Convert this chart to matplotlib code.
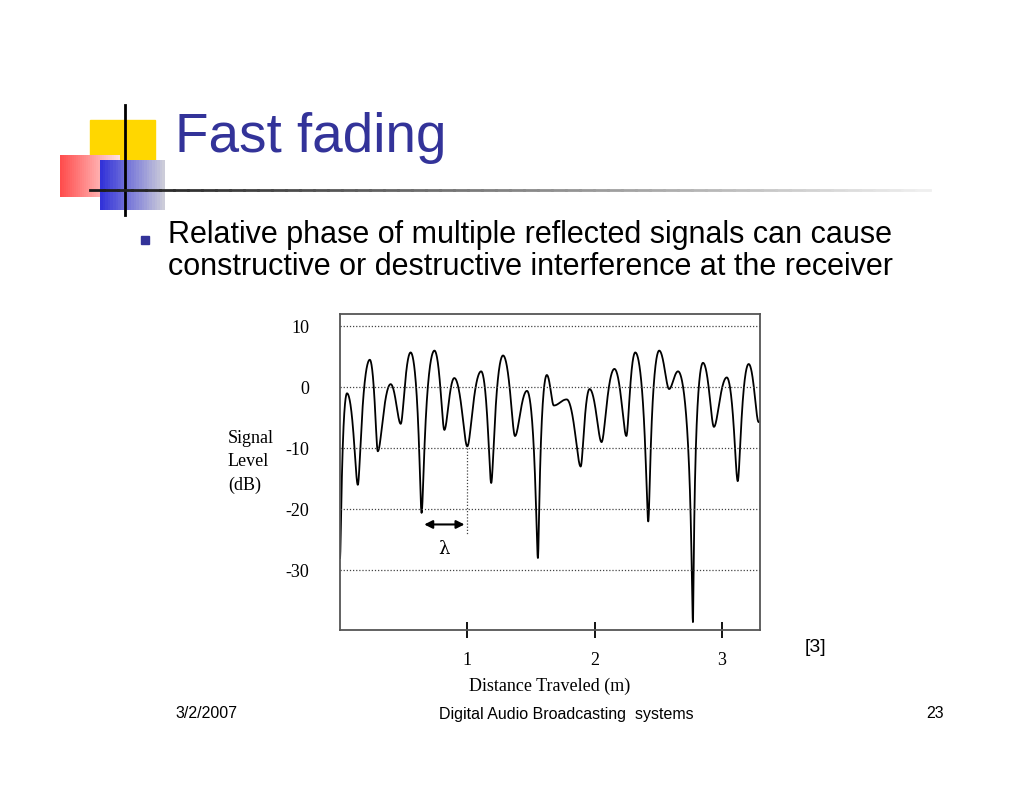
import numpy as np
import matplotlib
matplotlib.use("Agg")
import matplotlib.pyplot as plt
from matplotlib.patches import Rectangle

# extrema of the fading curve (distance m, level dB)
ext_x = [0.0, 0.055, 0.14, 0.234, 0.297, 0.398, 0.477, 0.555, 0.641, 0.742, 0.82, 0.898,
         1.0, 1.109, 1.188, 1.281, 1.375, 1.469, 1.555, 1.625, 1.68, 1.781, 1.891, 1.961,
         2.156, 2.055, 2.25, 2.32, 2.422, 2.508, 2.586, 2.656, 2.773, 2.852, 2.938, 3.039,
         3.125, 3.211, 3.289]
ext_y = [-28, -1, -16, 4.5, -10.5, 0.5, -6, 5.7, -20.6, 6, -7, 1.5, -9.7, 2.6, -15.7,
         5.2, -8, -0.6, -28, 2, -3, -2, -13, -0.3, 3, -9, -8, 5.7, -22, 6, -0.3, 2.6,
         -38.5, 4, -6.5, 1.6, -15.4, 3.8, -5.7]
order = np.argsort(ext_x)
ext_x = list(np.array(ext_x)[order]); ext_y = list(np.array(ext_y)[order])
yticks = [10, 0, -10, -20, -30]
xticks = [1, 2, 3]

fig = plt.figure(figsize=(10.24, 7.92), dpi=100)
fig.patch.set_facecolor("white")

# slide decoration
deco = fig.add_axes([0, 0, 1, 1]); deco.set_xlim(0, 1024); deco.set_ylim(792, 0); deco.axis("off")
deco.add_patch(Rectangle((90, 120), 65, 65, color="#FFD700", zorder=1))
for i in range(30):
    deco.add_patch(Rectangle((60 + i * 2, 155), 2, 42, color=(1, 0.3 + 0.02 * i, 0.3 + 0.02 * i), lw=0, zorder=2))
for i in range(25):
    deco.add_patch(Rectangle((100 + i * 2.6, 160), 2.6, 50, color=(0.2 + 0.025 * i, 0.2 + 0.025 * i, 0.85), lw=0, zorder=3))
deco.plot([125, 125], [105, 215], color="black", lw=2, zorder=4)
n = 60
xs = np.linspace(90, 930, n + 1)
for i in range(n):
    g = 0.1 + 0.85 * i / n
    deco.plot(xs[i:i + 2], [190, 190], color=(g, g, g), lw=2, zorder=4)
deco.text(175, 138, "Fast fading", fontsize=39.5, color="#333399", va="center", family="Liberation Sans")
deco.add_patch(Rectangle((141, 236), 8, 8, color="#333399"))
deco.text(168, 235, "Relative phase of multiple reflected signals can cause", fontsize=22, va="center", family="Liberation Sans")
deco.text(168, 267, "constructive or destructive interference at the receiver", fontsize=22, va="center", family="Liberation Sans")
deco.text(175, 714, "3/2/2007", fontsize=11.5, va="center", family="Liberation Sans")
deco.text(566, 714, "Digital Audio Broadcasting  systems", fontsize=11.5, va="center", ha="center", family="Liberation Sans")
deco.text(944, 714, "23", fontsize=11.5, va="center", ha="right", family="Liberation Sans")
deco.text(815, 648, "[3]", fontsize=14, va="center", ha="center", family="Liberation Sans")

ax = fig.add_axes([340 / 1024, 1 - 630 / 792, 420 / 1024, 316 / 792])
ax.set_xlim(0, 3.3); ax.set_ylim(-39.8, 12)

# render curve: cosine in linear amplitude between successive extrema
px, py = [], []
for i in range(len(ext_x) - 1):
    t = np.linspace(0, 1, 60)
    a0, a1 = 10 ** (ext_y[i] / 20), 10 ** (ext_y[i + 1] / 20)
    s = (1 - np.cos(np.pi * t)) / 2
    amp = a0 + (a1 - a0) * s
    px.extend(ext_x[i] + (ext_x[i + 1] - ext_x[i]) * t)
    py.extend(20 * np.log10(amp))
ax.plot(px, py, color="black", lw=1.3)

for y in yticks:
    ax.axhline(y, color="#444444", ls=(0, (1, 1.5)), lw=0.9)
ax.set_yticks(yticks)
ax.set_yticklabels([str(v) for v in yticks], family="Liberation Serif", fontsize=13)
ax.tick_params(axis="y", length=0, pad=22)
ax.set_xticks(xticks)
ax.set_xticklabels([str(v) for v in xticks], family="Liberation Serif", fontsize=13)
ax.tick_params(axis="x", direction="inout", length=12, width=1.3, pad=10)
for sp in ax.spines.values():
    sp.set_color("#555555"); sp.set_linewidth(1.3)
ax.set_xlabel("Distance Traveled (m)", family="Liberation Serif", fontsize=13, labelpad=6)
fig.text(228 / 1024, 1 - 462 / 792, "Signal\nLevel\n(dB)", family="Liberation Serif", fontsize=13, va="center", ha="left", linespacing=1.45)

# wavelength marker
ax.plot([1.0, 1.0], [-10, -24], color="#444444", ls=(0, (1, 1.5)), lw=0.9)
ax.annotate("", xy=(0.64, -22.5), xytext=(1.0, -22.5),
            arrowprops=dict(arrowstyle="<|-|>", color="black", lw=1.5, mutation_scale=12))
ax.text(0.82, -26.5, "λ", family="DejaVu Serif", fontsize=13, ha="center", va="center")

fig.savefig("out.png", dpi=100)
